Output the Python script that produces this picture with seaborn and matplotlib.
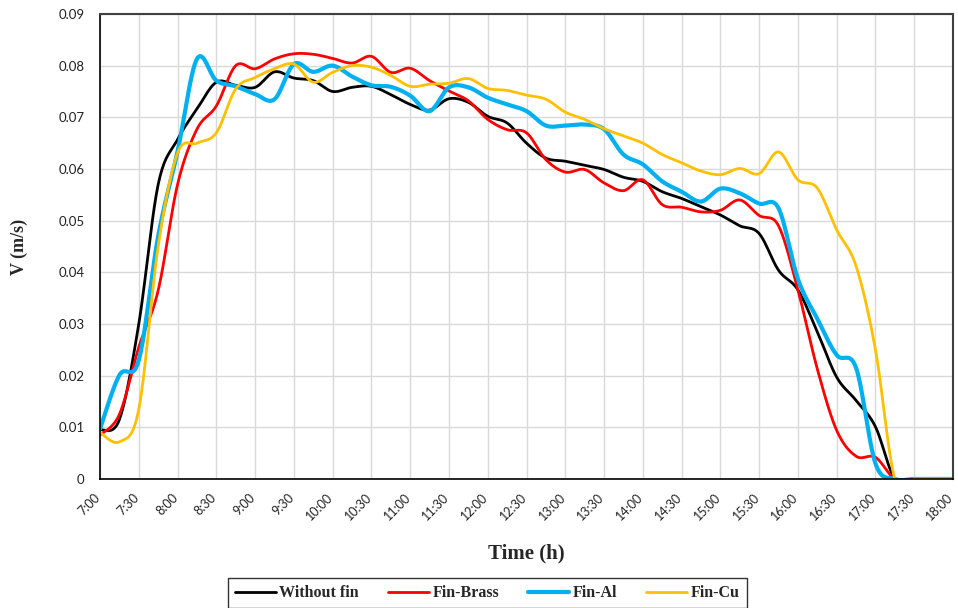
import numpy as np
import pandas as pd
import seaborn as sns
import matplotlib.pyplot as plt
import matplotlib.transforms as mtransforms

# readings every 15 min, 7:00 -> 18:00
time_labels = ["7:00", "7:15", "7:30", "7:45", "8:00", "8:15", "8:30", "8:45",
               "9:00", "9:15", "9:30", "9:45", "10:00", "10:15", "10:30", "10:45",
               "11:00", "11:15", "11:30", "11:45", "12:00", "12:15", "12:30", "12:45",
               "13:00", "13:15", "13:30", "13:45", "14:00", "14:15", "14:30", "14:45",
               "15:00", "15:15", "15:30", "15:45", "16:00", "16:15", "16:30", "16:45",
               "17:00", "17:15", "17:30", "17:45", "18:00"]

without_fin = [0.0095, 0.0115, 0.0300, 0.0570, 0.0657, 0.0716, 0.0768, 0.0762,
               0.0758, 0.0788, 0.0776, 0.0771, 0.0750, 0.0758, 0.0760, 0.0744,
               0.0725, 0.0714, 0.0736, 0.0729, 0.0702, 0.0689, 0.0650, 0.0621,
               0.0615, 0.0607, 0.0599, 0.0584, 0.0576, 0.0556, 0.0543, 0.0527,
               0.0511, 0.0490, 0.0475, 0.0404, 0.0366, 0.0285, 0.0197, 0.0152,
               0.0101, 0.0, 0.0, 0.0, 0.0]

fin_brass = [0.0085, 0.0125, 0.0255, 0.0365, 0.0570, 0.0677, 0.0722, 0.0800,
             0.0794, 0.0813, 0.0823, 0.0822, 0.0814, 0.0805, 0.0818, 0.0787,
             0.0795, 0.0771, 0.0751, 0.0732, 0.0696, 0.0676, 0.0670, 0.0618,
             0.0594, 0.0599, 0.0573, 0.0558, 0.0579, 0.0531, 0.0526, 0.0517,
             0.0520, 0.0540, 0.0510, 0.0490, 0.0366, 0.0213, 0.0094, 0.0044,
             0.0042, 0.0, 0.0, 0.0, 0.0]

fin_al = [0.0097, 0.0201, 0.0230, 0.0470, 0.0634, 0.0813, 0.0771, 0.0760,
          0.0745, 0.0735, 0.0803, 0.0788, 0.0800, 0.0779, 0.0762, 0.0759,
          0.0742, 0.0712, 0.0758, 0.0758, 0.0738, 0.0725, 0.0712, 0.0684,
          0.0684, 0.0686, 0.0677, 0.0628, 0.0609, 0.0576, 0.0556, 0.0537,
          0.0562, 0.0553, 0.0533, 0.0524, 0.0387, 0.0310, 0.0240, 0.0215,
          0.0030, 0.0, 0.0, 0.0, 0.0]

fin_cu = [0.0090, 0.0072, 0.0135, 0.0450, 0.0631, 0.0650, 0.0670, 0.0755,
          0.0777, 0.0794, 0.0803, 0.0768, 0.0787, 0.0800, 0.0797, 0.0781,
          0.0760, 0.0764, 0.0766, 0.0775, 0.0756, 0.0752, 0.0743, 0.0735,
          0.0710, 0.0696, 0.0678, 0.0664, 0.0650, 0.0628, 0.0612, 0.0596,
          0.0589, 0.0601, 0.0591, 0.0633, 0.0579, 0.0563, 0.0482, 0.0412,
          0.0250, 0.0, 0.0, 0.0, 0.0]

tick_labels = time_labels[::2]

series = [("Without fin", without_fin, "#000000", 2.0),
          ("Fin-Brass", fin_brass, "#FF0000", 2.0),
          ("Fin-Al", fin_al, "#00B0F0", 3.0),
          ("Fin-Cu", fin_cu, "#FFC000", 2.0)]


def to_hours(s):
    h, m = s.split(":")
    return int(h) + int(m) / 60


def smooth(x, y, n=20):
    # excel-like smoothed line (catmull-rom through the points)
    x = np.asarray(x, float)
    y = np.asarray(y, float)
    px = np.concatenate([[x[0]], x, [x[-1]]])
    py = np.concatenate([[y[0]], y, [y[-1]]])
    xs, ys = [], []
    for i in range(1, len(px) - 2):
        t = np.linspace(0, 1, n, endpoint=False)
        for p, out in ((px, xs), (py, ys)):
            p0, p1, p2, p3 = p[i - 1], p[i], p[i + 1], p[i + 2]
            out.extend(0.5 * (2 * p1 + (-p0 + p2) * t
                              + (2 * p0 - 5 * p1 + 4 * p2 - p3) * t ** 2
                              + (-p0 + 3 * p1 - 3 * p2 + p3) * t ** 3))
    xs.append(x[-1])
    ys.append(y[-1])
    return np.array(xs), np.array(ys)


hours = [to_hours(s) for s in time_labels]

sns.set_style("white")
plt.rcParams['font.family'] = ['Lato', 'DejaVu Sans']

fig = plt.figure(figsize=(9.58, 6.08), dpi=100)
ax = fig.add_axes([0.1044, 0.2122, 0.8904, 0.7648])

for name, vals, color, lw in series:
    sx, sy = smooth(hours, vals)
    df = pd.DataFrame({"t": sx, "v": sy})
    sns.lineplot(data=df, x="t", y="v", sort=False, estimator=None,
                 color=color, lw=lw, label=name, ax=ax)

ax.set_xlim(7, 18)
ax.set_ylim(0, 0.09)
ax.set_xticks([to_hours(s) for s in tick_labels])
ax.set_xticklabels(tick_labels, rotation=45, ha="right", rotation_mode="anchor")
ax.set_yticks(np.arange(0, 0.091, 0.01))
ax.set_yticklabels(["0"] + [f"{v:.2f}" for v in np.arange(0.01, 0.091, 0.01)])
ax.tick_params(axis="both", direction="out", length=5, width=1, color="black",
               labelsize=9.5, labelcolor="#222222")
ax.tick_params(axis="y", pad=6)
ax.tick_params(axis="x", pad=4, labelsize=9)
ax.grid(True, color="#D9D9D9", lw=1)
ax.set_axisbelow(True)

# nudge the rotated labels a bit left so 18:00 stays inside the figure
shift = mtransforms.ScaledTranslation(-6 / 100, 0, fig.dpi_scale_trans)
for lab in ax.get_xticklabels():
    lab.set_transform(lab.get_transform() + shift)

for side in ["left", "bottom"]:
    ax.spines[side].set_color("black")
    ax.spines[side].set_linewidth(1.2)
for side in ["top", "right"]:
    ax.spines[side].set_color("#404040")
    ax.spines[side].set_linewidth(1.5)

ax.set_xlabel("Time (h)", family="Liberation Serif", fontweight="bold",
              fontsize=15, labelpad=15)
ax.set_ylabel("V (m/s)", family="Liberation Serif", fontweight="bold",
              fontsize=13, labelpad=22)

leg = ax.legend(loc="lower center", bbox_to_anchor=(0.5085, -0.006),
                bbox_transform=fig.transFigure, ncol=4, frameon=True,
                fancybox=False, edgecolor="black", handlelength=2.6,
                handletextpad=0.2, columnspacing=1.8, borderpad=0.45,
                borderaxespad=0.2,
                prop={"family": "Liberation Serif", "weight": "bold", "size": 11.5})
leg.get_frame().set_linewidth(1.0)

fig.savefig("out.png", dpi=100)
